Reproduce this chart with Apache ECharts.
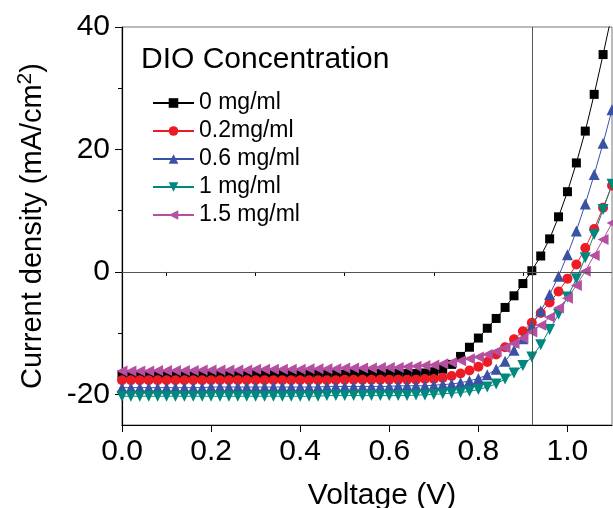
<!DOCTYPE html>
<html>
<head>
<meta charset="utf-8">
<title>J-V curves, DIO concentration</title>
<script src="https://cdn.jsdelivr.net/npm/echarts@6/dist/echarts.min.js"></script>
<style>
  html, body { margin: 0; padding: 0; background: #fff; }
  #chart { width: 613px; height: 508px; }
</style>
</head>
<body>
<div id="chart"></div>
<script>
// voltage (V)
var voltage = [0.00, 0.02, 0.04, 0.06, 0.08, 0.10, 0.12, 0.14, 0.16, 0.18,
  0.20, 0.22, 0.24, 0.26, 0.28, 0.30, 0.32, 0.34, 0.36, 0.38,
  0.40, 0.42, 0.44, 0.46, 0.48, 0.50, 0.52, 0.54, 0.56, 0.58,
  0.60, 0.62, 0.64, 0.66, 0.68, 0.70, 0.72, 0.74, 0.76, 0.78,
  0.80, 0.82, 0.84, 0.86, 0.88, 0.90, 0.92, 0.94, 0.96, 0.98,
  1.00, 1.02, 1.04, 1.06, 1.08, 1.10]

// current density (mA/cm2)
var dio0 = [-16.8, -16.8, -16.8, -16.8, -16.8, -16.8, -16.8, -16.8, -16.8, -16.8,
  -16.7, -16.7, -16.7, -16.7, -16.7, -16.7, -16.7, -16.7, -16.7, -16.7,
  -16.7, -16.7, -16.7, -16.7, -16.7, -16.7, -16.6, -16.6, -16.6, -16.6,
  -16.6, -16.6, -16.6, -16.6, -16.5, -16.3, -15.9, -15.1, -13.8, -12.3,
  -10.8, -9.2, -7.6, -5.8, -3.9, -1.9, 0.2, 2.6, 5.4, 9.0,
  13.1, 17.8, 23.0, 29.0, 35.5, 42.2]
var dio02 = [-17.7, -17.7, -17.7, -17.7, -17.7, -17.7, -17.7, -17.7, -17.7, -17.7,
  -17.7, -17.7, -17.7, -17.7, -17.7, -17.7, -17.7, -17.7, -17.7, -17.7,
  -17.7, -17.7, -17.7, -17.7, -17.7, -17.6, -17.6, -17.6, -17.6, -17.6,
  -17.6, -17.6, -17.6, -17.6, -17.5, -17.5, -17.3, -17.0, -16.6, -16.1,
  -15.5, -14.7, -13.5, -12.3, -11.0, -9.7, -8.3, -6.7, -5.0, -3.2,
  -1.1, 1.2, 3.9, 7.0, 10.5, 14.1]
var dio06 = [-18.9, -18.9, -18.9, -18.9, -18.9, -18.9, -18.9, -18.9, -18.9, -18.9,
  -18.8, -18.8, -18.8, -18.8, -18.8, -18.8, -18.8, -18.8, -18.8, -18.8,
  -18.8, -18.8, -18.8, -18.7, -18.7, -18.7, -18.7, -18.7, -18.7, -18.7,
  -18.7, -18.6, -18.6, -18.6, -18.6, -18.5, -18.4, -18.3, -18.1, -17.8,
  -17.4, -16.8, -15.9, -14.6, -12.8, -10.9, -8.8, -6.4, -3.7, -0.7,
  2.8, 6.7, 11.1, 15.9, 21.0, 26.5]
var dio1 = [-20.3, -20.3, -20.3, -20.3, -20.3, -20.3, -20.3, -20.3, -20.3, -20.3,
  -20.3, -20.3, -20.3, -20.3, -20.3, -20.3, -20.3, -20.3, -20.3, -20.3,
  -20.3, -20.3, -20.3, -20.2, -20.2, -20.2, -20.2, -20.2, -20.2, -20.2,
  -20.2, -20.2, -20.2, -20.1, -20.1, -20.0, -19.9, -19.8, -19.7, -19.5,
  -19.2, -18.8, -18.3, -17.5, -16.5, -15.3, -13.9, -11.9, -9.4, -6.9,
  -4.1, -1.1, 2.3, 6.1, 10.2, 14.3]
var dio15 = [-16.2, -16.2, -16.2, -16.2, -16.1, -16.1, -16.1, -16.1, -16.1, -16.0,
  -16.0, -16.0, -16.0, -16.0, -16.0, -15.9, -15.9, -15.9, -15.9, -15.9,
  -15.9, -15.8, -15.8, -15.8, -15.8, -15.7, -15.7, -15.7, -15.7, -15.6,
  -15.6, -15.6, -15.5, -15.4, -15.3, -15.2, -15.0, -14.8, -14.5, -14.2,
  -13.9, -13.5, -13.0, -12.4, -11.7, -10.8, -9.8, -8.7, -7.4, -5.9,
  -4.3, -2.2, 0.1, 2.7, 5.3, 8.0]

var seriesNames = ['0 mg/ml', '0.2mg/ml', '0.6 mg/ml', '1 mg/ml', '1.5 mg/ml']
var xLabels = [0, 0.2, 0.4, 0.6, 0.8, 1.0]
var xMinor = [0.1, 0.3, 0.5, 0.7, 0.9]
var yLabels = [-20, 0, 20, 40]
var yMinor = [-10, 10, 30]
var vocLine = 0.921

var FONT = '"Liberation Sans", Arial, Helvetica, sans-serif'

function pairs(ys) {
  return voltage.map(function (v, i) { return [v, ys[i]] })
}

function makeSeries(name, ys, color, symbol, size, rotate) {
  return {
    name: name,
    type: 'line',
    data: pairs(ys),
    symbol: symbol,
    symbolSize: size,
    symbolRotate: rotate,
    showAllSymbol: true,
    clip: true,
    itemStyle: { color: color, borderWidth: 0 },
    lineStyle: { color: color, width: 1 },
    emphasis: { disabled: true },
    animation: false
  }
}

var series = [
  makeSeries(seriesNames[0], dio0, '#000000', 'rect', 9, 0),
  makeSeries(seriesNames[1], dio02, '#ED1C24', 'circle', 10, 0),
  makeSeries(seriesNames[2], dio06, '#3A52A4', 'triangle', 11, 0),
  makeSeries(seriesNames[3], dio1, '#00877E', 'triangle', 11, 180),
  makeSeries(seriesNames[4], dio15, '#B4509F', 'triangle', 11, 90)
]

// reference lines (J = 0 and Voc)
series[0].markLine = {
  silent: true,
  symbol: 'none',
  label: { show: false },
  lineStyle: { color: '#555', width: 1, type: 'solid' },
  animation: false,
  data: [{ yAxis: 0 }, { xAxis: vocLine }]
}

var chart = echarts.init(document.getElementById('chart'))
var option = {
  animation: false,
  textStyle: { fontFamily: FONT },
  title: {
    text: 'DIO Concentration',
    left: 141,
    top: 45,
    padding: 0,
    textStyle: { fontFamily: FONT, fontSize: 30, fontWeight: 'normal', color: '#000' }
  },
  legend: {
    data: seriesNames,
    orient: 'vertical',
    left: 152,
    top: 89,
    padding: 0,
    itemWidth: 41,
    itemHeight: 12,
    itemGap: 0,
    textStyle: { fontFamily: FONT, fontSize: 23, color: '#000', lineHeight: 28, height: 28 }
  },
  grid: {
    left: 122,
    right: 1,
    top: 27,
    bottom: 83,
    outerBoundsMode: 'none',
    containLabel: false,
    show: true,
    borderColor: '#777',
    borderWidth: 1
  },
  xAxis: [{
    type: 'value',
    min: 0,
    max: 1.1,
    position: 'bottom',
    name: 'Voltage (V)',
    nameLocation: 'middle',
    nameGap: 56,
    nameTextStyle: { fontFamily: FONT, fontSize: 30, color: '#000', padding: [0, 0, 0, 30] },
    axisLine: { show: true, onZero: false, lineStyle: { color: '#000', width: 1.2 } },
    axisTick: { show: true, customValues: xLabels, length: 7, lineStyle: { color: '#000' } },
    axisLabel: {
      customValues: xLabels,
      margin: 12,
      fontFamily: FONT,
      fontSize: 30,
      color: '#000',
      formatter: function (v) { return v.toFixed(1) }
    },
    splitLine: { show: false }
  }, {
    type: 'value',
    min: 0,
    max: 1.1,
    position: 'bottom',
    axisLine: { show: false },
    axisTick: { show: true, customValues: xMinor, length: 4, lineStyle: { color: '#000' } },
    axisLabel: { show: false },
    splitLine: { show: false }
  }],
  yAxis: [{
    type: 'value',
    min: -25,
    max: 40,
    position: 'left',
    name: 'Current density (mA/cm{sup|2})',
    nameLocation: 'middle',
    nameGap: 72,
    nameTextStyle: {
      fontFamily: FONT,
      fontSize: 29,
      color: '#000',
      rich: {
        sup: { fontFamily: FONT, fontSize: 21, color: '#000', padding: [0, 0, 14, 0] }
      }
    },
    axisLine: { show: true, onZero: false, lineStyle: { color: '#000', width: 1.2 } },
    axisTick: { show: true, customValues: yLabels, length: 7, lineStyle: { color: '#000' } },
    axisLabel: { customValues: yLabels, margin: 12, fontFamily: FONT, fontSize: 30, color: '#000' },
    splitLine: { show: false }
  }, {
    type: 'value',
    min: -25,
    max: 40,
    position: 'left',
    axisLine: { show: false },
    axisTick: { show: true, customValues: yMinor, length: 4, lineStyle: { color: '#000' } },
    axisLabel: { show: false },
    splitLine: { show: false }
  }],
  series: series
}
chart.setOption(option)
</script>
</body>
</html>
